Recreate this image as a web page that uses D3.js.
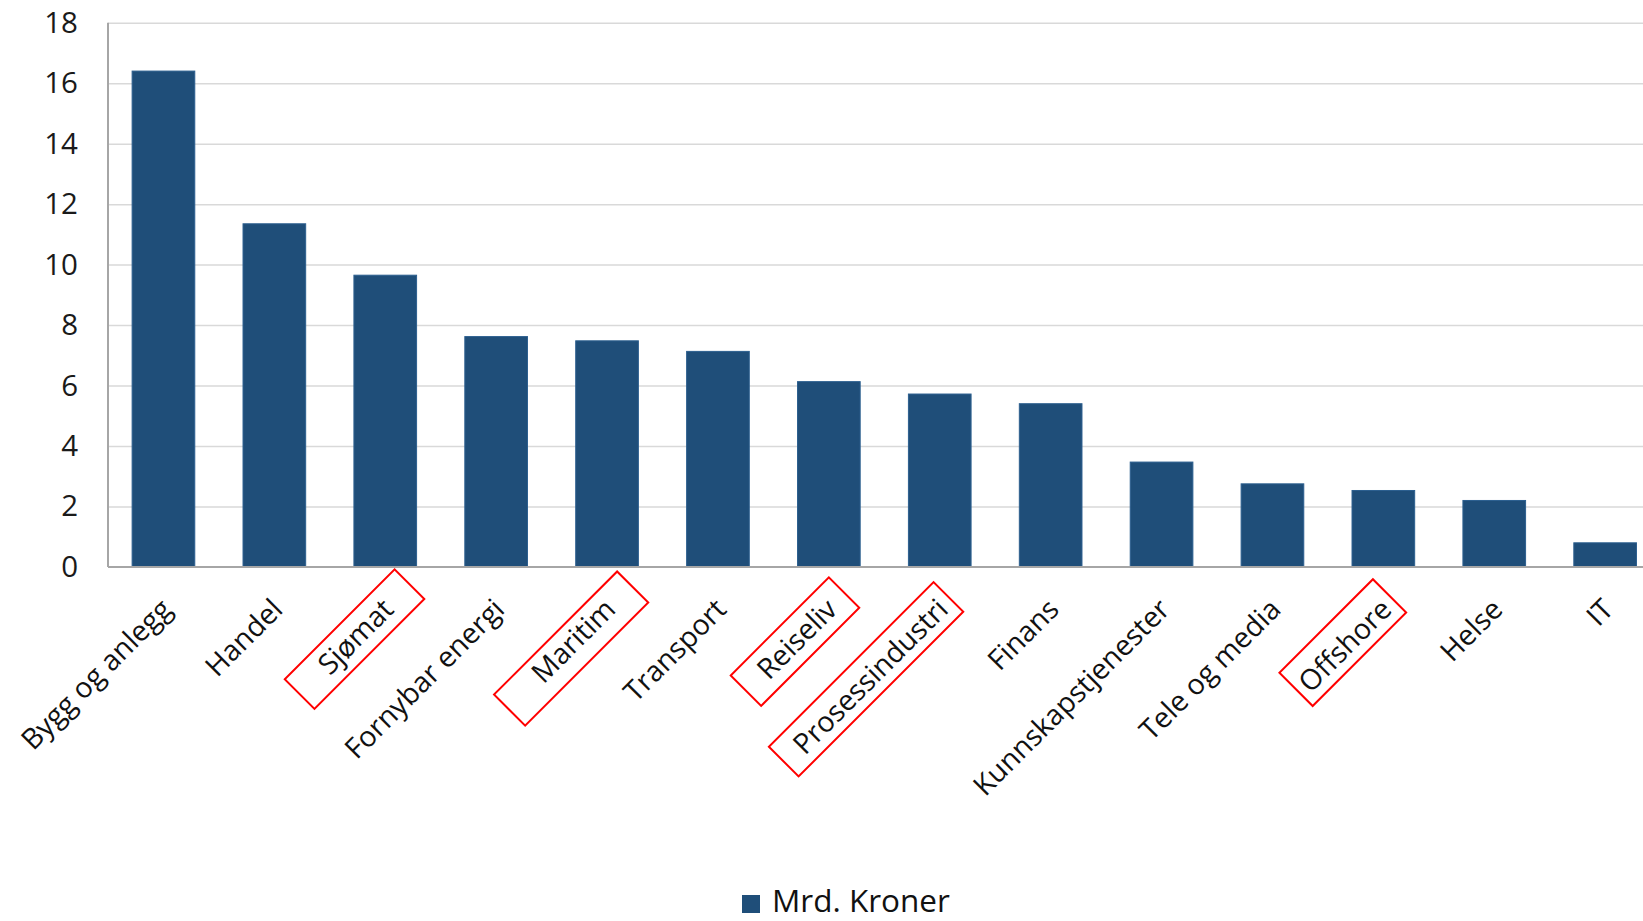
<!DOCTYPE html>
<html>
<head>
<meta charset="utf-8">
<script src="https://cdn.jsdelivr.net/npm/d3@7"></script>
<style>
  body { margin: 0; background: #fff; }
  svg { display: block; font-family: "Open Sans", "Noto Sans", sans-serif; }
  .grid line { stroke: #d9d9d9; stroke-width: 1.5; }
  .axis-line { stroke: #a6a6a6; stroke-width: 2; }
</style>
</head>
<body>
<svg id="chart"></svg>
<script>
// Data
const categories = ['Bygg og anlegg', 'Handel', 'Sjømat', 'Fornybar energi', 'Maritim', 'Transport',
  'Reiseliv', 'Prosessindustri', 'Finans', 'Kunnskapstjenester', 'Tele og media', 'Offshore', 'Helse', 'IT'];
const values = [16.4, 11.35, 9.65, 7.62, 7.48, 7.13, 6.13, 5.72, 5.4, 3.47, 2.75, 2.53, 2.2, 0.8];
const yTicks = [0, 2, 4, 6, 8, 10, 12, 14, 16, 18];
const seriesName = 'Mrd. Kroner';

// Labels marked with a red frame, with the frame's padding around the text
const highlighted = ['Sjømat', 'Maritim', 'Reiseliv', 'Prosessindustri', 'Offshore'];
const framePads = [
  {pre: 34, post: 29, top: 20, bottom: 22},
  {pre: 42, post: 28, top: 18, bottom: 26},
  {pre: 23, post: 16, top: 21, bottom: 22},
  {pre: 19, post: 9, top: 22, bottom: 20},
  {pre: 7, post: 8, top: 27, bottom: 20}
];

const config = {
  width: 1643,
  height: 921,
  margin: {top: 22.7, left: 108, bottom: 354},
  plotWidth: 1552.6,
  barColor: '#1f4e79'
};

const data = categories.map((c, i) => ({name: c, value: values[i]}));

const svg = d3.select('#chart')
    .attr('width', config.width)
    .attr('height', config.height);

const y0 = config.height - config.margin.bottom;

const xScale = d3.scaleBand()
    .domain(categories)
    .range([config.margin.left, config.margin.left + config.plotWidth])
    .paddingInner(0.435)
    .paddingOuter(0.2175);

const yScale = d3.scaleLinear()
    .domain([0, 18])
    .range([y0, config.margin.top]);

// Horizontal gridlines
const yGrid = d3.axisLeft(yScale)
    .tickValues(yTicks.filter(d => d > 0))
    .tickSize(-(config.width - config.margin.left))
    .tickFormat('');

svg.append('g')
    .attr('class', 'grid')
    .attr('transform', `translate(${config.margin.left},0)`)
    .call(yGrid)
    .call(g => g.select('.domain').remove());

// Y axis labels
const yAxis = d3.axisLeft(yScale)
    .tickValues(yTicks)
    .tickSize(0)
    .tickPadding(30);

svg.append('g')
    .attr('transform', `translate(${config.margin.left},0)`)
    .call(yAxis)
    .call(g => g.select('.domain').remove())
    .call(g => g.selectAll('text')
        .attr('font-family', '"Open Sans", sans-serif')
        .attr('font-size', 29.5)
        .attr('fill', '#1a1a1a'));

// Bars
svg.selectAll('.bar')
    .data(data)
  .join('rect')
    .attr('class', 'bar')
    .attr('x', d => xScale(d.name))
    .attr('y', d => yScale(d.value))
    .attr('width', xScale.bandwidth())
    .attr('height', d => y0 - yScale(d.value))
    .attr('fill', config.barColor)
    .attr('stroke', '#2c5f8f')
    .attr('stroke-width', 1);

// Axis lines
svg.append('line')
    .attr('class', 'axis-line')
    .attr('x1', config.margin.left).attr('x2', config.margin.left)
    .attr('y1', config.margin.top).attr('y2', y0);

svg.append('line')
    .attr('class', 'axis-line')
    .attr('x1', config.margin.left).attr('x2', config.width)
    .attr('y1', y0).attr('y2', y0);

// Rotated category labels
const labels = svg.selectAll('.cat-label')
    .data(data)
  .join('g')
    .attr('class', 'cat-label')
    .attr('transform', d => `translate(${xScale(d.name) + xScale.bandwidth() / 2 + 3},${y0 + 37}) rotate(-45)`);

labels.append('text')
    .attr('text-anchor', 'end')
    .attr('dy', '0.35em')
    .attr('font-size', 28.5)
    .attr('fill', '#111')
    .text(d => d.name);

// Red frames around highlighted labels
labels.filter(d => highlighted.includes(d.name))
    .each(function(d) {
      const g = d3.select(this);
      const box = g.select('text').node().getBBox();
      const pad = framePads[highlighted.indexOf(d.name)];
      g.insert('rect', 'text')
          .attr('x', box.x - pad.pre)
          .attr('y', -pad.top)
          .attr('width', box.width + pad.pre + pad.post)
          .attr('height', pad.top + pad.bottom)
          .attr('fill', 'none')
          .attr('stroke', '#ff0000')
          .attr('stroke-width', 2);
    });

// Legend
const legend = svg.append('g')
    .attr('transform', 'translate(742,895)');

legend.append('rect')
    .attr('width', 18)
    .attr('height', 18)
    .attr('fill', config.barColor);

legend.append('text')
    .attr('x', 30)
    .attr('y', 17)
    .attr('font-size', 31.5)
    .attr('fill', '#111')
    .text(seriesName);
</script>
</body>
</html>
